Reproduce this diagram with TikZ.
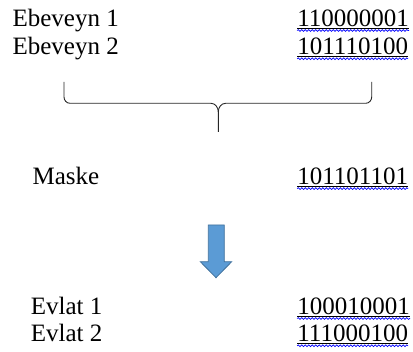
\documentclass[tikz,border=0pt]{standalone}
\usepackage{fontspec}
\setmainfont{Liberation Serif}
\usetikzlibrary{decorations.pathmorphing}
\definecolor{arrowfill}{HTML}{5B9BD5}
\definecolor{arrowline}{HTML}{41719C}
\begin{document}
\begin{tikzpicture}[
    x=1pt, y=-1pt,
    every node/.style={inner sep=0pt, font=\fontsize{25}{28}\selectfont},
    txt/.style={anchor=base west},
    bits/.style={anchor=base west},
    uline/.style={draw, line width=0.9pt},
    spell/.style={draw=blue, line width=0.7pt, decorate,
        decoration={snake, amplitude=0.9pt, segment length=3.5pt}},
    bracket/.style={draw=black!85, line width=0.9pt},
    downarrow/.style={fill=arrowfill, draw=arrowline, line width=0.8pt, line join=miter}
]
  \useasboundingbox (0,0) rectangle (413,352);

  % parents
  \node[txt] (ebeveyn1) at (12.4,26.5) {Ebeveyn 1};
  \node[txt] (ebeveyn2) at (12.4,54.8) {Ebeveyn 2};
  \node[bits] (ebeveyn1bits) at (297.2,26.5) {110000001};
  \node[bits] (ebeveyn2bits) at (297.2,54.8) {101110100};

  % brace
  \draw[bracket] (64,82) -- (64,97) to[out=-90,in=180] (70,103.3) -- (211,103.3)
      to[out=0,in=90] (218.3,112) -- (218.3,132);
  \draw[bracket] (371.7,82) -- (371.7,97) to[out=-90,in=0] (365.7,103.3) -- (225.6,103.3)
      to[out=180,in=90] (218.3,112);

  % mask
  \node[txt] (maske) at (32.4,184.6) {Maske};
  \node[bits] (maskebits) at (297.2,184.6) {101101101};

  % arrow
  \draw[downarrow] (208.3,225) -- (224.3,225) -- (224.3,261.7) -- (231.7,261.7)
      -- (216,277.7) -- (200.3,261.7) -- (208.3,261.7) -- cycle;

  % children
  \node[txt] (evlat1) at (30.7,314.5) {Evlat 1};
  \node[txt] (evlat2) at (30.7,341.8) {Evlat 2};
  \node[bits] (evlat1bits) at (297.2,314.5) {100010001};
  \node[bits] (evlat2bits) at (297.2,341.8) {111000100};

  \foreach \b in {ebeveyn1bits,ebeveyn2bits,maskebits,evlat1bits,evlat2bits} {
    \draw[uline] ([yshift=-1.8pt]\b.base west) -- ([yshift=-1.8pt]\b.base east);
    \draw[spell] ([yshift=-4pt]\b.base west) -- ([yshift=-4pt]\b.base east);
  }
\end{tikzpicture}
\end{document}
